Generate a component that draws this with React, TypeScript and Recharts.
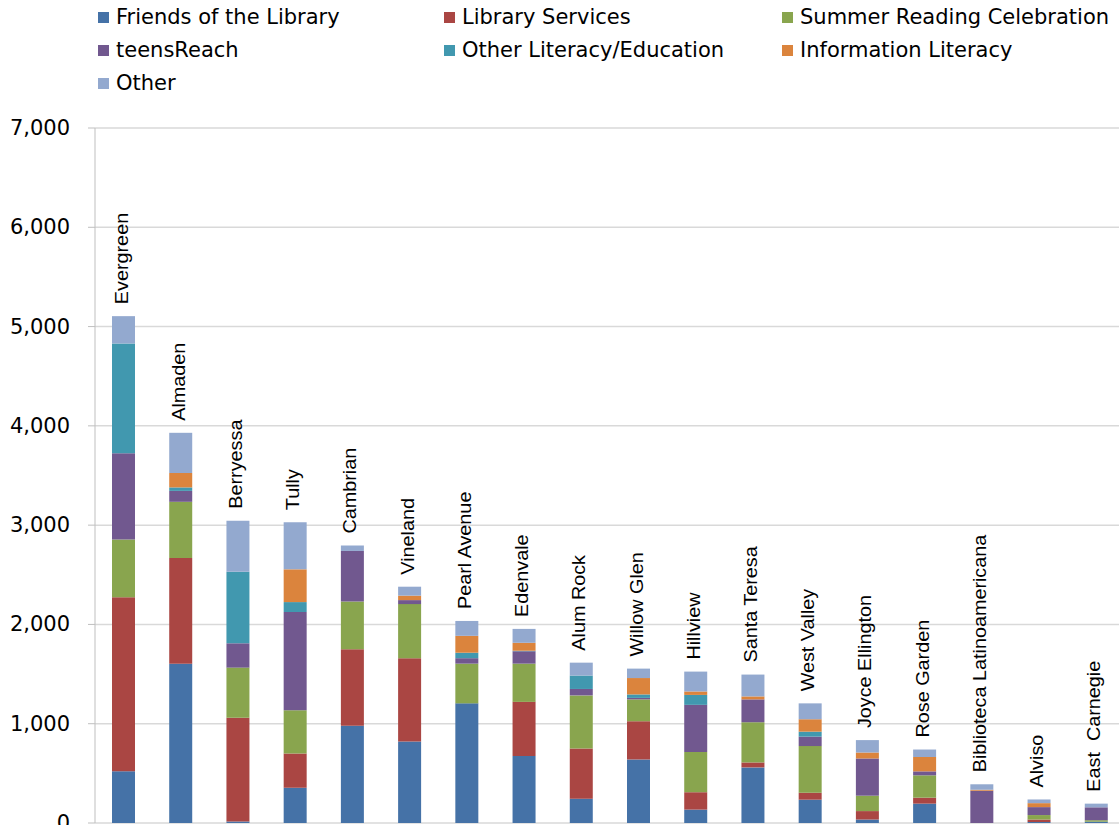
import React from "react";
import { Bar, BarChart, CartesianGrid, LabelList, XAxis, YAxis } from "recharts";

const branches = [
  "Evergreen",
  "Almaden",
  "Berryessa",
  "Tully",
  "Cambrian",
  "Vineland",
  "Pearl Avenue",
  "Edenvale",
  "Alum Rock",
  "Willow Glen",
  "Hillview",
  "Santa Teresa",
  "West Valley",
  "Joyce Ellington",
  "Rose Garden",
  "Biblioteca Latinoamericana",
  "Alviso",
  "East  Carnegie"
];

const friends = [520, 1605, 15, 355, 980, 820, 1205, 675, 245, 640, 135, 560, 235, 35, 195, 0, 10, 13];
const libraryServices = [1755, 1065, 1045, 345, 770, 840, 0, 545, 505, 385, 175, 50, 70, 85, 60, 0, 25, 0];
const summerReading = [580, 565, 505, 435, 480, 545, 400, 385, 535, 220, 405, 405, 470, 155, 225, 0, 45, 15];
const teensReach = [870, 110, 245, 990, 510, 40, 55, 125, 65, 15, 475, 230, 95, 375, 40, 325, 80, 130];
const otherLiteracy = [1105, 35, 720, 100, 0, 0, 55, 5, 135, 35, 100, 0, 50, 0, 0, 0, 0, 0];
const infoLiteracy = [0, 145, 0, 330, 0, 45, 170, 80, 0, 165, 35, 30, 125, 60, 145, 10, 40, 0];
const other = [275, 405, 515, 475, 55, 90, 150, 140, 130, 95, 200, 220, 160, 125, 75, 55, 37, 37];

const yTicks = [0, 1000, 2000, 3000, 4000, 5000, 6000, 7000];

const series = [
  { key: "friends", name: "Friends of the Library", color: "#4572a7" },
  { key: "libraryServices", name: "Library Services", color: "#aa4643" },
  { key: "summerReading", name: "Summer Reading Celebration", color: "#89a54e" },
  { key: "teensReach", name: "teensReach", color: "#71588f" },
  { key: "otherLiteracy", name: "Other Literacy/Education", color: "#4198af" },
  { key: "infoLiteracy", name: "Information Literacy", color: "#db843d" },
  { key: "other", name: "Other", color: "#93a9cf" }
];

const data = branches.map((name, i) => ({
  name,
  friends: friends[i],
  libraryServices: libraryServices[i],
  summerReading: summerReading[i],
  teensReach: teensReach[i],
  otherLiteracy: otherLiteracy[i],
  infoLiteracy: infoLiteracy[i],
  other: other[i]
}));

// legend laid out in three columns like the original
const legendCols = [98, 444, 782];
const legendRows = [17, 50, 83];

function ChartLegend() {
  return (
    <>
      {series.map((s, i) => (
        <div
          key={s.key}
          style={{
            position: "absolute",
            left: legendCols[i % 3],
            top: legendRows[Math.floor(i / 3)] - 14,
            height: 28,
            display: "flex",
            alignItems: "center",
            whiteSpace: "nowrap",
            fontFamily: "'DejaVu Sans', sans-serif",
            fontSize: 21,
            color: "#000"
          }}
        >
          <span style={{ width: 11, height: 11, background: s.color, marginRight: 7, display: "inline-block" }} />
          <span>{s.name}</span>
        </div>
      ))}
    </>
  );
}

function YTick({ x, y, payload }: any) {
  return (
    <text
      x={x}
      y={y}
      dy={7}
      textAnchor="end"
      fontFamily="'DejaVu Sans', sans-serif"
      fontSize={21}
      fill="#000"
    >
      {payload.value.toLocaleString("en-US")}
    </text>
  );
}

function BranchLabel({ x, y, width, value }: any) {
  const cx = Number(x) + Number(width) / 2;
  const top = Number(y) - 12;
  return (
    <text
      transform={`translate(${cx},${top}) rotate(-90) scale(1.1,1)`}
      x={0}
      y={0}
      dy={4}
      textAnchor="start"
      fontFamily="'Liberation Sans', Arial, sans-serif"
      fontSize={18}
      fill="#000"
      style={{ whiteSpace: "pre" }}
    >
      {value}
    </text>
  );
}

export default function App() {
  return (
    <div
      style={{
        position: "absolute",
        left: 0,
        top: 0,
        width: 1119,
        height: 825,
        overflow: "hidden",
        background: "#fff"
      }}
    >
      <ChartLegend />
      <BarChart
        width={1130}
        height={860}
        data={data}
        margin={{ top: 128, right: 5, bottom: 37, left: 0 }}
        barSize={23}
      >
        <CartesianGrid vertical={false} stroke="#d9d9d9" strokeWidth={1.5} />
        <XAxis dataKey="name" hide />
        <YAxis
          width={95}
          domain={[0, 7000]}
          ticks={yTicks}
          interval={0}
          tickSize={7}
          tickMargin={18}
          axisLine={{ stroke: "#bfbfbf" }}
          tickLine={{ stroke: "#bfbfbf" }}
          tick={<YTick />}
        />
        {series.map((s, i) => (
          <Bar
            key={s.key}
            dataKey={s.key}
            name={s.name}
            stackId="branch"
            fill={s.color}
            isAnimationActive={false}
          >
            {i === series.length - 1 && <LabelList dataKey="name" content={<BranchLabel />} />}
          </Bar>
        ))}
      </BarChart>
    </div>
  );
}
